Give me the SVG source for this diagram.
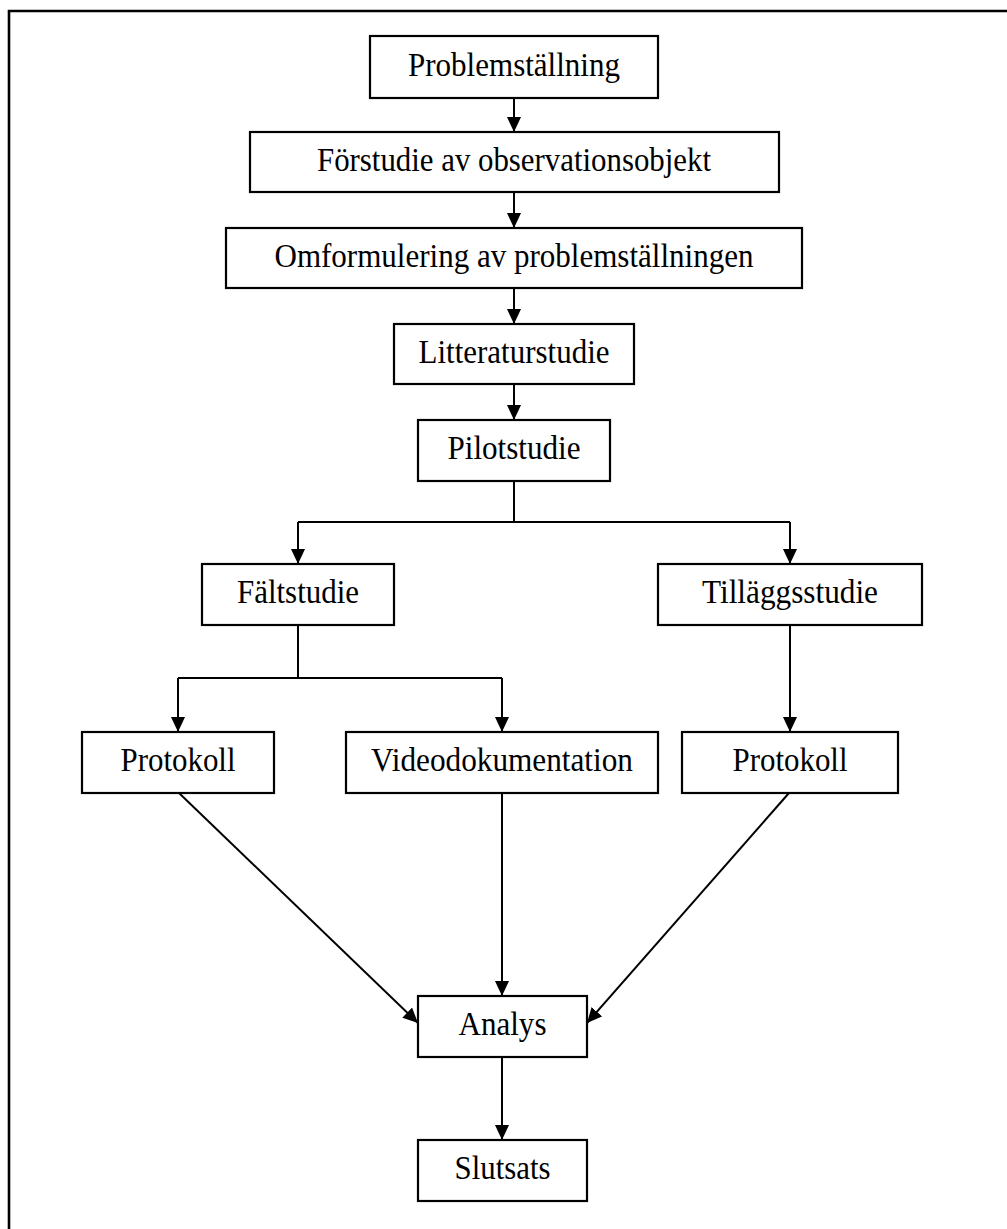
<svg xmlns="http://www.w3.org/2000/svg" width="1007" height="1229" viewBox="0 0 1007 1229">
<style>
.box{fill:#fff;stroke:#000;stroke-width:2.2}
.lbl{font-family:"Liberation Serif","Times New Roman",serif;font-size:33px;fill:#000;text-anchor:middle}
.con{fill:none;stroke:#000;stroke-width:2}
.frame{fill:none;stroke:#000;stroke-width:2.6}
</style>
<defs>
<marker id="ah" markerUnits="userSpaceOnUse" markerWidth="15" markerHeight="14" refX="15" refY="7" orient="auto">
<path d="M0,0 L15,7 L0,14 z" fill="#000"/>
</marker>
</defs>
<rect width="1007" height="1229" fill="#fff"/>
<path class="frame" d="M9,1229 V11 H1007"/>
<g id="connectors">
<path class="con" d="M514,98 V132" marker-end="url(#ah)"/>
<path class="con" d="M514,192 V228" marker-end="url(#ah)"/>
<path class="con" d="M514,288 V324" marker-end="url(#ah)"/>
<path class="con" d="M514,384 V420" marker-end="url(#ah)"/>
<path class="con" d="M514,481 V522"/>
<path class="con" d="M298,522 H790"/>
<path class="con" d="M298,522 V564" marker-end="url(#ah)"/>
<path class="con" d="M790,522 V564" marker-end="url(#ah)"/>
<path class="con" d="M298,625 V678"/>
<path class="con" d="M178,678 H502"/>
<path class="con" d="M178,678 V732" marker-end="url(#ah)"/>
<path class="con" d="M502,678 V732" marker-end="url(#ah)"/>
<path class="con" d="M790,625 V732" marker-end="url(#ah)"/>
<path class="con" d="M179,793 L418,1023" marker-end="url(#ah)"/>
<path class="con" d="M502,793 V996" marker-end="url(#ah)"/>
<path class="con" d="M789,793 L587,1023" marker-end="url(#ah)"/>
<path class="con" d="M502,1057 V1140" marker-end="url(#ah)"/>
</g>
<g id="n1"><rect class="box" x="370" y="36" width="288" height="62"/><text class="lbl" x="514" y="76" textLength="212" lengthAdjust="spacingAndGlyphs">Problemställning</text></g>
<g id="n2"><rect class="box" x="250" y="132" width="529" height="60"/><text class="lbl" x="514" y="171" textLength="394" lengthAdjust="spacingAndGlyphs">Förstudie av observationsobjekt</text></g>
<g id="n3"><rect class="box" x="226" y="228" width="576" height="60"/><text class="lbl" x="514" y="267" textLength="479" lengthAdjust="spacingAndGlyphs">Omformulering av problemställningen</text></g>
<g id="n4"><rect class="box" x="394" y="324" width="240" height="60"/><text class="lbl" x="514" y="363" textLength="191" lengthAdjust="spacingAndGlyphs">Litteraturstudie</text></g>
<g id="n5"><rect class="box" x="418" y="420" width="192" height="61"/><text class="lbl" x="514" y="459" textLength="133" lengthAdjust="spacingAndGlyphs">Pilotstudie</text></g>
<g id="n6"><rect class="box" x="202" y="564" width="192" height="61"/><text class="lbl" x="298" y="603" textLength="122" lengthAdjust="spacingAndGlyphs">Fältstudie</text></g>
<g id="n7"><rect class="box" x="658" y="564" width="264" height="61"/><text class="lbl" x="790" y="603" textLength="176" lengthAdjust="spacingAndGlyphs">Tilläggsstudie</text></g>
<g id="n8"><rect class="box" x="82" y="732" width="192" height="61"/><text class="lbl" x="178" y="771" textLength="115" lengthAdjust="spacingAndGlyphs">Protokoll</text></g>
<g id="n9"><rect class="box" x="346" y="732" width="312" height="61"/><text class="lbl" x="502" y="771" textLength="262" lengthAdjust="spacingAndGlyphs">Videodokumentation</text></g>
<g id="n10"><rect class="box" x="682" y="732" width="216" height="61"/><text class="lbl" x="790" y="771" textLength="115" lengthAdjust="spacingAndGlyphs">Protokoll</text></g>
<g id="n11"><rect class="box" x="418" y="996" width="169" height="61"/><text class="lbl" x="502.5" y="1035" textLength="88" lengthAdjust="spacingAndGlyphs">Analys</text></g>
<g id="n12"><rect class="box" x="418" y="1140" width="169" height="61"/><text class="lbl" x="502.5" y="1179" textLength="96" lengthAdjust="spacingAndGlyphs">Slutsats</text></g>
</svg>
